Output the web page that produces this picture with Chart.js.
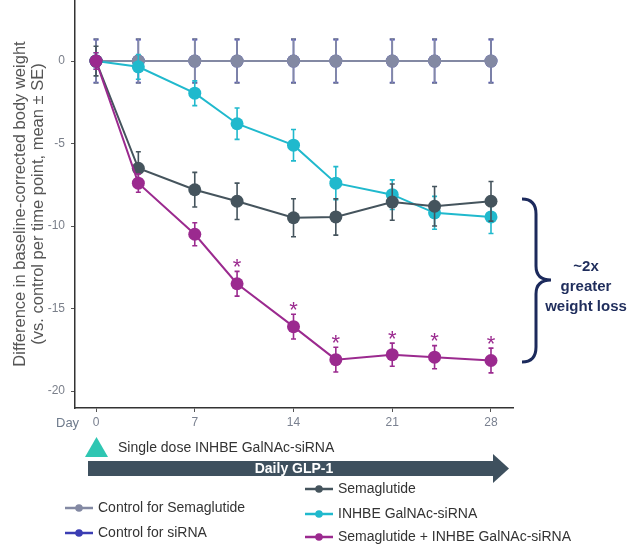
<!DOCTYPE html>
<html><head><meta charset="utf-8">
<script src="https://cdn.jsdelivr.net/npm/chart.js@4"></script>
<style>html,body{margin:0;padding:0;background:#fff;overflow:hidden}#wrap{position:relative;width:631px;height:549px}</style>
</head><body><div id="wrap"><canvas id="c" width="631" height="549"></canvas></div>
<script>
// ---------- data ----------
const days = [0, 3, 7, 10, 14, 17, 21, 24, 28];
const xTicks = [0, 7, 14, 21, 28];
const yTicks = [0, -5, -10, -15, -20];
const seriesNames = ['Control for Semaglutide', 'Control for siRNA', 'Semaglutide', 'INHBE GalNAc-siRNA', 'Semaglutide + INHBE GalNAc-siRNA'];
const controlSema    = [0, 0, 0, 0, 0, 0, 0, 0, 0];
const controlSemaSE  = [1.35, 1.35, 1.35, 1.35, 1.35, 1.35, 1.35, 1.35, 1.35];
const controlSirna   = [0, 0, 0, 0, 0, 0, 0, 0, 0];
const controlSirnaSE = [1.3, 1.3, 1.3, 1.3, 1.3, 1.3, 1.3, 1.3, 1.3];
const sema           = [0, -6.5, -7.8, -8.5, -9.5, -9.45, -8.55, -8.8, -8.5];
const semaSE         = [0.9, 1.0, 1.05, 1.1, 1.15, 1.1, 1.1, 1.2, 1.2];
const inhbe          = [0, -0.35, -1.95, -3.8, -5.1, -7.4, -8.1, -9.2, -9.45];
const inhbeSE        = [0.5, 0.75, 0.75, 0.95, 0.95, 1.0, 0.9, 1.0, 1.0];
const combo          = [0, -7.4, -10.5, -13.5, -16.1, -18.1, -17.8, -17.95, -18.15];
const comboSE        = [0.5, 0.55, 0.7, 0.75, 0.75, 0.75, 0.7, 0.7, 0.75];
const comboSignif    = [false, false, false, true, true, true, true, true, true];

const colors = ['#8389a3', '#3b3db3', '#45545d', '#20b9cd', '#9b2a8f'];

function pts(vals) { return days.map((d, i) => ({x: d, y: vals[i]})); }
function mk(idx, vals, se, order) {
  return {
    label: seriesNames[idx], data: pts(vals), errors: se, order: order,
    borderColor: colors[idx], backgroundColor: colors[idx],
    pointBackgroundColor: colors[idx], pointBorderWidth: 0,
    pointRadius: 6.5, borderWidth: 2, tension: 0, fill: false, clip: false
  };
}
const datasets = [
  mk(0, controlSema, controlSemaSE, 3),
  mk(1, controlSirna, controlSirnaSE, 4),
  mk(2, sema, semaSE, 1),
  mk(3, inhbe, inhbeSE, 2),
  mk(4, combo, comboSE, 0)
];
datasets[4].signif = comboSignif;

const errorBars = {
  id: 'errorBars',
  beforeDatasetDraw(chart, args) {
    const ds = chart.data.datasets[args.index];
    if (!ds.errors) return;
    const ctx = chart.ctx, ys = chart.scales.y;
    ctx.save();
    ctx.strokeStyle = ds.borderColor; ctx.lineWidth = 1.6;
    args.meta.data.forEach((p, i) => {
      const v = ds.data[i].y, e = ds.errors[i];
      const t = ys.getPixelForValue(v + e), b = ys.getPixelForValue(v - e);
      ctx.beginPath();
      ctx.moveTo(p.x, t); ctx.lineTo(p.x, b);
      ctx.moveTo(p.x - 2.5, t); ctx.lineTo(p.x + 2.5, t);
      ctx.moveTo(p.x - 2.5, b); ctx.lineTo(p.x + 2.5, b);
      ctx.stroke();
    });
    ctx.restore();
  },
  afterDatasetsDraw(chart) {
    const ctx = chart.ctx, ys = chart.scales.y;
    chart.data.datasets.forEach((ds, di) => {
      if (!ds.signif) return;
      const meta = chart.getDatasetMeta(di);
      ctx.save();
      ctx.fillStyle = ds.borderColor;
      ctx.font = '22px "Liberation Sans", Arial, sans-serif';
      ctx.textAlign = 'center'; ctx.textBaseline = 'alphabetic';
      meta.data.forEach((p, i) => {
        if (!ds.signif[i]) return;
        const top = ys.getPixelForValue(ds.data[i].y + ds.errors[i]);
        ctx.fillText('*', p.x, top - 10 + 12.5);
      });
      ctx.restore();
    });
  }
};

const annotations = {
  id: 'annotations',
  afterDraw(chart) {
    const ctx = chart.ctx;
    ctx.save();
    const F = '"Liberation Sans", Arial, sans-serif';
    // Day label
    ctx.fillStyle = '#6f7b8c'; ctx.font = '13px ' + F;
    ctx.textAlign = 'left'; ctx.textBaseline = 'middle';
    ctx.fillText('Day', 56, 423);
    // triangle
    ctx.fillStyle = '#2fc6b2';
    ctx.beginPath(); ctx.moveTo(85, 457); ctx.lineTo(108, 457); ctx.lineTo(96.5, 437); ctx.closePath(); ctx.fill();
    ctx.fillStyle = '#333'; ctx.font = '14px ' + F;
    ctx.fillText('Single dose INHBE GalNAc-siRNA', 118, 448);
    // arrow
    ctx.fillStyle = '#3e505e';
    ctx.fillRect(88, 461, 406, 15);
    ctx.beginPath(); ctx.moveTo(493, 454); ctx.lineTo(509, 468.5); ctx.lineTo(493, 483); ctx.closePath(); ctx.fill();
    ctx.fillStyle = '#fff'; ctx.font = 'bold 14px ' + F; ctx.textAlign = 'center';
    ctx.fillText('Daily GLP-1', 294, 469);
    // legend
    const leg = [[0, 65, 508], [1, 65, 533], [2, 305, 489], [3, 305, 514], [4, 305, 537]];
    ctx.font = '14px ' + F; ctx.textAlign = 'left';
    leg.forEach(([i, x, y]) => {
      ctx.strokeStyle = colors[i]; ctx.fillStyle = colors[i]; ctx.lineWidth = 2.5;
      ctx.beginPath(); ctx.moveTo(x, y); ctx.lineTo(x + 28, y); ctx.stroke();
      ctx.beginPath(); ctx.arc(x + 14, y, 3.8, 0, Math.PI * 2); ctx.fill();
      ctx.fillStyle = '#333';
      ctx.fillText(seriesNames[i], x + 33, y);
    });
    // brace
    ctx.strokeStyle = '#1c2a5c'; ctx.lineWidth = 3;
    ctx.beginPath();
    ctx.moveTo(522, 199);
    ctx.quadraticCurveTo(536, 199, 536, 214);
    ctx.lineTo(536, 266);
    ctx.quadraticCurveTo(536, 280, 551, 280);
    ctx.quadraticCurveTo(536, 280, 536, 294);
    ctx.lineTo(536, 347);
    ctx.quadraticCurveTo(536, 362, 522, 362);
    ctx.stroke();
    ctx.fillStyle = '#1f2d5c'; ctx.font = 'bold 15px ' + F; ctx.textAlign = 'center';
    ctx.fillText('~2x', 586, 267);
    ctx.fillText('greater', 586, 287);
    ctx.fillText('weight loss', 586, 307);
    ctx.restore();
  }
};

new Chart(document.getElementById('c'), {
  type: 'line',
  data: {datasets},
  options: {
    responsive: false, animation: false, devicePixelRatio: 1,
    layout: {autoPadding: false, padding: {left: 0, top: 0, right: 118, bottom: 0}},
    plugins: {legend: {display: false}, tooltip: {enabled: false}},
    scales: {
      x: {
        type: 'linear', min: -1.49, max: 29.56,
        afterBuildTicks(s) { s.ticks = xTicks.map(v => ({value: v})); },
        afterFit(s) { s.height = 141; s.paddingLeft = 0; s.paddingRight = 0; },
        border: {display: true, color: '#333', width: 1.5},
        grid: {display: true, drawOnChartArea: false, drawTicks: true, tickLength: 4, tickColor: '#555'},
        ticks: {color: '#7a8190', font: {size: 12, family: '"Liberation Sans", Arial, sans-serif'}, padding: 3, maxRotation: 0}
      },
      y: {
        type: 'linear', min: -21.03, max: 3.7,
        afterBuildTicks(s) { s.ticks = yTicks.map(v => ({value: v})); },
        afterFit(s) { s.width = 75; s.paddingTop = 0; s.paddingBottom = 0; },
        border: {display: true, color: '#333', width: 1.5},
        grid: {display: true, drawOnChartArea: false, drawTicks: true, tickLength: 4, tickColor: '#555'},
        ticks: {color: '#7a7f8a', font: {size: 12, family: '"Liberation Sans", Arial, sans-serif'}, padding: 6},
        title: {
          display: true,
          text: ['Difference in baseline-corrected body weight', '(vs. control per time point, mean \u00b1 SE)'],
          color: '#555', font: {size: 16.5, family: '"Liberation Sans", Arial, sans-serif', lineHeight: 1.1},
          padding: {top: 11, bottom: 0}
        }
      }
    }
  },
  plugins: [errorBars, annotations]
});
</script>
</body></html>
